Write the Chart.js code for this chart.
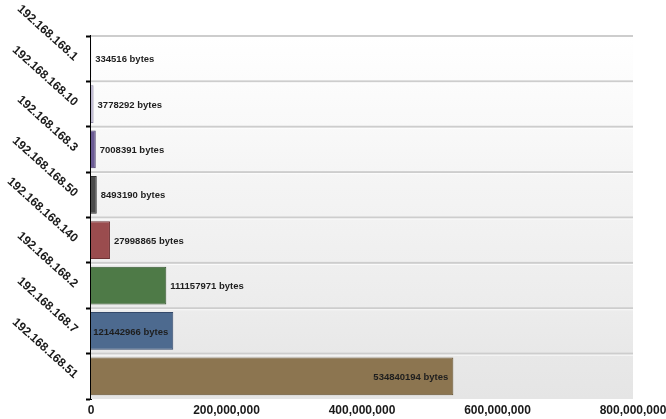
<!DOCTYPE html>
<html>
<head>
<meta charset="utf-8">
<script src="https://cdn.jsdelivr.net/npm/chart.js@4.4.1/dist/chart.umd.min.js"></script>
<style>
  html, body { margin: 0; padding: 0; background: #fff; }
  #wrap { width: 666px; height: 419px; }
</style>
</head>
<body>
<div id="wrap"><canvas id="bytesChart"></canvas></div>
<script>
/* ── DATA ───────────────────────────────────── */
const hosts = ['192.168.168.1', '192.168.168.10', '192.168.168.3', '192.168.168.50',
               '192.168.168.140', '192.168.168.2', '192.168.168.7', '192.168.168.51'];
const bytes = [334516, 3778292, 7008391, 8493190, 27998865, 111157971, 121442966, 534840194];
const xTicks = [0, 200000000, 400000000, 600000000, 800000000];

const fills   = ['#6f7fa8', '#bdb8d0', '#6b5b94', '#4b4b4b', '#9a4c4e', '#4e7a47', '#4d6a8f', '#8c7550'];
const borders = ['#4a5678', '#8e88a6', '#4a3d6a', '#2e2e2e', '#6e3335', '#35552f', '#34496a', '#65522f'];

/* ── BANDED BACKGROUND ──────────────────────── */
const bands = {
    id: 'bands',
    beforeDatasetsDraw(chart) {
        const { ctx, chartArea: a, scales: { y } } = chart;
        const n = hosts.length;
        const step = y.getPixelForValue(1) - y.getPixelForValue(0);
        ctx.save();
        for (let i = 0; i < n; i++) {
            const top = y.getPixelForValue(i) - step / 2;
            const t0 = i / n, t1 = (i + 1) / n;
            const g = ctx.createLinearGradient(0, top, 0, top + step);
            const c0 = Math.round(255 - 26 * t0), c1 = Math.round(255 - 26 * t1);
            g.addColorStop(0, `rgb(${c0},${c0},${c0})`);
            g.addColorStop(1, `rgb(${c1},${c1},${c1})`);
            ctx.fillStyle = g;
            ctx.fillRect(a.left, top, a.right - a.left, step);
            // separator
            ctx.fillStyle = '#cdcdcd';
            ctx.fillRect(a.left, top - 1, a.right - a.left, 2);
            ctx.fillStyle = 'rgba(255,255,255,0.8)';
            ctx.fillRect(a.left, top + 1, a.right - a.left, 1);
        }
        ctx.restore();
    }
};

/* ── "N bytes" LABELS ───────────────────────── */
const valueLabels = {
    id: 'valueLabels',
    afterDatasetsDraw(chart) {
        const { ctx } = chart;
        const meta = chart.getDatasetMeta(0);
        ctx.save();
        ctx.font = 'bold 9.5px "Liberation Sans", Arial, sans-serif';
        ctx.fillStyle = '#1e1e1e';
        ctx.textBaseline = 'middle';
        meta.data.forEach((bar, i) => {
            const txt = bytes[i] + ' bytes';
            const w = ctx.measureText(txt).width;
            const barW = bar.x - bar.base;
            if (barW >= w + 4) {
                ctx.textAlign = 'right';
                ctx.fillText(txt, bar.x - 5, bar.y + 1);
            } else {
                ctx.textAlign = 'left';
                ctx.fillText(txt, bar.x + 4, bar.y + 1);
            }
        });
        ctx.restore();
    }
};

/* ── CHART ──────────────────────────────────── */
new Chart(document.getElementById('bytesChart'), {
    type: 'bar',
    data: {
        labels: hosts,
        datasets: [{
            data: bytes,
            backgroundColor: fills,
            borderColor: borders,
            borderWidth: 1,
            borderSkipped: 'left',
            barPercentage: 0.83,
            categoryPercentage: 1,
        }]
    },
    plugins: [bands, valueLabels],
    options: {
        indexAxis: 'y',
        responsive: true, maintainAspectRatio: false,
        animation: false,
        layout: { padding: { top: 36, right: 33, left: 0, bottom: 0 } },
        plugins: { legend: { display: false }, tooltip: { enabled: false } },
        scales: {
            x: {
                min: 0, max: 800000000,
                afterBuildTicks: (s) => { s.ticks = xTicks.map(v => ({ value: v })); },
                afterFit: (s) => { s.height = 20; s.paddingRight = 0; },
                grid: { display: false, drawTicks: false },
                border: { display: false },
                ticks: {
                    padding: 4,
                    color: '#1a1a1a',
                    font: { family: '"Liberation Sans", Arial, sans-serif', size: 12, weight: 'bold' },
                    maxRotation: 0,
                    callback: (v) => Number(v).toLocaleString('en-US'),
                }
            },
            y: {
                afterFit: (s) => { s.width = 91; },
                grid: { drawOnChartArea: false, tickLength: 5, tickColor: '#000', tickWidth: 2 },
                border: { color: '#000', width: 2 },
                ticks: {
                    minRotation: -42, maxRotation: -42,
                    padding: 10,
                    color: '#1a1a1a',
                    font: { family: '"Liberation Sans", Arial, sans-serif', size: 12, weight: 'bold' },
                }
            }
        }
    }
});
</script>
</body>
</html>
